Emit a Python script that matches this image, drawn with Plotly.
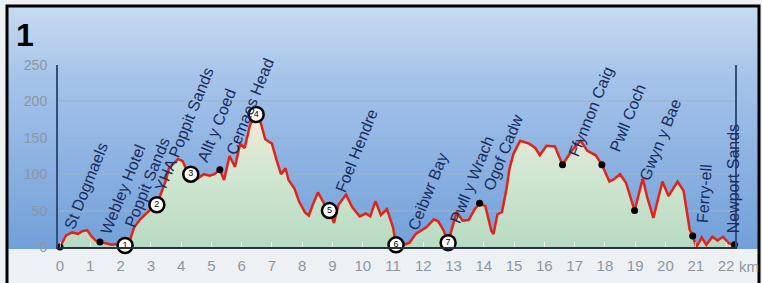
import plotly.graph_objects as go

W, H = 762, 283

# ---- data ----
km = [0.0, 0.2, 0.4, 0.6, 0.75, 0.9, 1.05, 1.2, 1.32, 1.5, 1.7, 1.9, 2.15, 2.3, 2.45, 2.65, 2.87,
      3.05, 3.2, 3.35, 3.5, 3.6, 3.75, 3.9, 4.05, 4.2, 4.32, 4.55, 4.75, 4.95, 5.1, 5.28, 5.42,
      5.6, 5.78, 5.95, 6.1, 6.28, 6.48, 6.62, 6.78, 7.0, 7.15, 7.3, 7.45, 7.55, 7.75, 7.9, 8.1,
      8.22, 8.35, 8.52, 8.72, 8.9, 9.05, 9.2, 9.45, 9.65, 9.9, 10.1, 10.25, 10.42, 10.6, 10.8,
      11.0, 11.1, 11.3, 11.55, 11.75, 11.95, 12.1, 12.35, 12.5, 12.68, 12.82, 13.1, 13.3, 13.5,
      13.7, 13.86, 14.05, 14.25, 14.32, 14.45, 14.6, 14.75, 14.85, 14.98, 15.2, 15.5, 15.7,
      15.85, 16.07, 16.35, 16.6, 16.9, 17.2, 17.42, 17.7, 17.9, 18.15, 18.3, 18.5, 18.7, 18.98,
      19.25, 19.4, 19.6, 19.9, 20.1, 20.4, 20.6, 20.8, 20.9, 21.02, 21.2, 21.35, 21.55, 21.72,
      21.9, 22.1, 22.28]
elev = [0, 16, 20, 18, 22, 23, 14, 8, 7, 5, 3, 4, 2, 8, 27, 38, 47,
        54, 58, 75, 92, 108, 115, 121, 118, 104, 100, 94, 100, 98, 100, 106, 92,
        125, 110, 142, 136, 168, 182, 172, 148, 142, 120, 100, 108, 92, 80, 62, 47,
        43, 58, 75, 60, 50, 33, 58, 72, 55, 42, 46, 42, 63, 44, 52,
        27, 3, 2, 6, 18, 23, 27, 38, 35, 22, 6, 48, 36, 37,
        52, 60, 56, 22, 18, 45, 48, 80, 108, 128, 146, 142, 136,
        126, 139, 138, 113, 132, 146, 132, 126, 113, 90, 93, 100, 88, 50,
        94, 68, 40, 90, 70, 90, 77, 24, 15, 0, 13, 3, 14, 9,
        14, 5, 3]

circle_km = [2.15, 3.2, 4.32, 6.48, 8.9, 11.1, 12.82]
circle_elev = [2, 58, 100, 182, 50, 3, 6]
circle_num = ["1", "2", "3", "4", "5", "6", "7"]

dot_km = [0.0, 1.32, 5.28, 13.86, 16.6, 17.9, 18.98, 20.9, 22.28]
dot_elev = [0, 7, 106, 60, 113, 113, 50, 15, 3]

place_names = ["St Dogmaels", "Webley Hotel", "Poppit Sands", "YHA Poppit Sands", "Allt y Coed",
               "Cemaes Head", "Foel Hendre", "Ceibwr Bay", "Pwll y Wrach", "Ogof Cadw",
               "Ffynnon Caig", "Pwll Coch", "Gwyn y Bae", "Ferry-ell", "Newport Sands"]
label_km = [-0.05, 1.15, 1.95, 2.95, 4.35, 5.3, 8.9, 11.3, 12.7, 13.8, 16.6, 17.95, 18.95, 20.85, 21.9]
label_elev = [18, 10, 20, 69, 110, 120, 69, 16, 26, 71, 118, 124, 85, 30, 16]
label_angle = [-68, -68, -68, -68, -68, -68, -68, -68, -68, -68, -68, -68, -68, -86, -90]

x_ticks = list(range(0, 23))
y_ticks = [0, 50, 100, 150, 200, 250]

# ---- geometry of the frame (pixels) ----
px0, pxkm = 60, (726 - 60) / 22.0
left_px, right_px = 58, 735
bottom_px, top_px = 247, 65

fig = go.Figure()

# background gradient panel (pixel axis)
fig.add_trace(go.Scatter(
    x=[7, 759, 759, 7, 7], y=[5, 5, 249, 249, 5], xaxis="x", yaxis="y",
    mode="none", fill="toself",
    fillgradient=dict(type="vertical", colorscale=[[0, "#72a0d9"], [0.7, "#a5c3ea"], [1, "#c8dbf0"]]),
    hoverinfo="skip", showlegend=False))

# elevation profile
fig.add_trace(go.Scatter(
    x=km, y=elev, xaxis="x2", yaxis="y2", mode="lines",
    line=dict(color="#e1231b", width=2.5),
    fill="tozeroy",
    fillgradient=dict(type="vertical", start=0, stop=185,
                      colorscale=[[0, "rgba(196,228,190,0.85)"], [0.55, "rgba(222,240,206,0.85)"],
                                  [1, "rgba(252,240,214,0.9)"]]),
    hoverinfo="skip", showlegend=False))

# small black dots
fig.add_trace(go.Scatter(
    x=dot_km, y=dot_elev, xaxis="x2", yaxis="y2", mode="markers",
    marker=dict(color="black", size=7), hoverinfo="skip", showlegend=False, cliponaxis=False))

# numbered circles
fig.add_trace(go.Scatter(
    x=circle_km, y=circle_elev, xaxis="x2", yaxis="y2", mode="markers+text",
    marker=dict(color="white", size=15, line=dict(color="black", width=2.5)),
    text=circle_num, textposition="middle center",
    textfont=dict(family="Liberation Sans", size=9, color="black"),
    hoverinfo="skip", showlegend=False, cliponaxis=False))

annotations = []
for name, lx, ly, ang in zip(place_names, label_km, label_elev, label_angle):
    annotations.append(dict(
        x=lx, y=ly, xref="x2", yref="y2", text=name, showarrow=False,
        textangle=ang, xanchor="left", yanchor="bottom",
        font=dict(family="Liberation Sans", size=16, color="#1a2d5e")))

annotations.append(dict(x=14, y=35, xref="x", yref="y", text="<b>1</b>", showarrow=False,
                        xanchor="left", yanchor="middle",
                        font=dict(family="Liberation Sans", size=32, color="black")))
annotations.append(dict(x=737, y=266, xref="x", yref="y", text="km", showarrow=False,
                        xanchor="left", yanchor="middle",
                        font=dict(family="Liberation Sans", size=15, color="#8d959e")))

fig.update_layout(
    width=W, height=H,
    margin=dict(l=0, r=0, t=0, b=0, pad=0),
    paper_bgcolor="#eef1f4",
    plot_bgcolor="rgba(0,0,0,0)",
    showlegend=False,
    xaxis=dict(domain=[0, 1], range=[0, W], visible=False, fixedrange=True, automargin=False),
    yaxis=dict(domain=[0, 1], range=[H, 0], visible=False, fixedrange=True, automargin=False),
    xaxis2=dict(domain=[left_px / W, right_px / W], anchor="y2", automargin=False,
                range=[(left_px - px0) / pxkm, (right_px - px0) / pxkm],
                tickvals=x_ticks, ticktext=[str(t) for t in x_ticks],
                showline=True, linecolor="#27323d", linewidth=2,
                ticks="inside", ticklen=5, tickcolor="rgba(255,255,255,0.7)",
                tickfont=dict(family="Liberation Sans", size=15, color="#8d959e"),
                ticklabelstandoff=4,
                showgrid=False, zeroline=False),
    yaxis2=dict(domain=[(H - bottom_px) / H, (H - top_px) / H], anchor="x2", automargin=False,
                range=[0, 250], tickvals=y_ticks,
                showline=True, mirror=True, linecolor="#33507a", linewidth=2,
                showgrid=True, gridcolor="rgba(150,180,200,0.55)", gridwidth=1.5,
                zeroline=False, ticks="",
                tickfont=dict(family="Liberation Sans", size=14, color="#8d959e"),
                ticklabelstandoff=6),
    annotations=annotations,
    shapes=[dict(type="rect", xref="x", yref="y", x0=7, y0=6, x1=759, y1=300,
                 line=dict(color="black", width=3), layer="above")],
)

fig.write_html("out.html", config={"displayModeBar": False},
               post_script="document.body.style.margin='0';document.body.style.overflow='hidden';")
